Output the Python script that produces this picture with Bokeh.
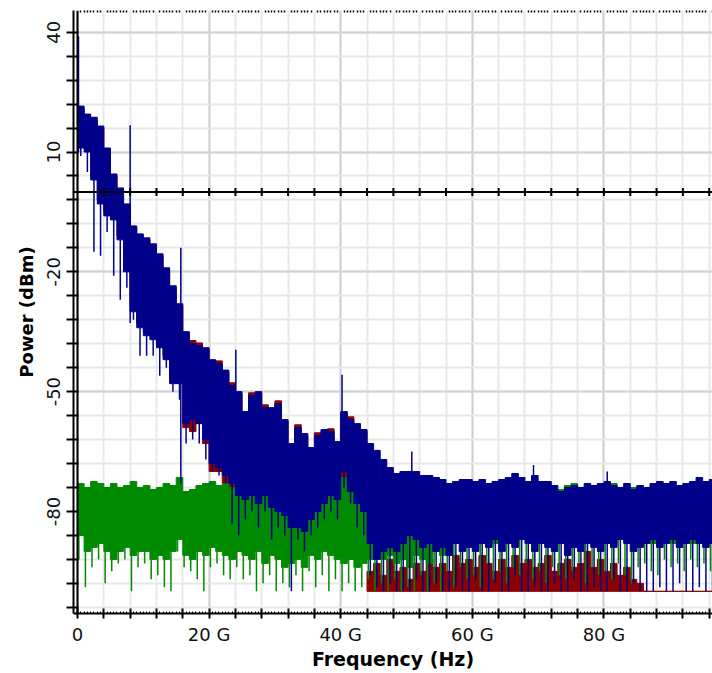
import math
from bokeh.plotting import figure
from bokeh.models import ColumnDataSource, FixedTicker, LinearAxis, Range1d, Span, Grid
from bokeh.embed import file_html
from bokeh.resources import INLINE

# ---------------- data (1 GHz bins) ----------------
freq_ghz = list(range(97))

blue_hi = [21.5, 19.5, 18.7, 16.5, 11, 4.5, 1, -3, -8.5, -10.5,
           -11.5, -13, -15.5, -19, -23.5, -28, -35, -38, -38.5, -39,
           -42, -43, -44.6, -48.5, -50, -55, -51, -50, -54, -54,
           -53, -57, -63, -59, -60.5, -64, -61, -59.5, -60, -62.5,
           -55, -57, -58, -59.5, -63, -64.7, -67, -69, -70.5, -70,
           -70, -70, -71, -71, -71.5, -72, -73, -72.5, -72, -72,
           -72.5, -72, -73, -72.5, -72, -71.5, -70.5, -71.5, -72.5, -71,
           -72.5, -72.5, -73.5, -75, -74, -73.5, -74, -73, -73.5, -73,
           -72.5, -73.5, -74, -73, -74.5, -73.5, -74, -73, -72.5, -73,
           -72.5, -73.5, -73, -72.5, -71.5, -72.5, -72]
blue_core = [11, 10, 3, -3, -6, -7, -12, -20, -30, -34,
             -36, -37, -39, -42, -48, -48, -58, -57, -58, -62,
             -68, -69, -71, -73, -76, -77, -76, -78, -76, -79,
             -80, -81, -84, -84, -85, -82, -80, -78, -76, -77,
             -70, -75, -78, -80, -88, -92, -90, -89, -90, -88,
             -86, -87, -89, -88, -90, -89, -91, -88, -90, -89,
             -90, -88, -89, -87, -90, -88, -89, -87, -88, -90,
             -88, -89, -90, -88, -91, -89, -90, -88, -89, -90,
             -88, -89, -87, -88, -90, -89, -88, -87, -89, -88,
             -87, -89, -88, -87, -88, -89, -88]
blue_lo = [9, 5, -15, -16, -10, -21, -27, -24, -32, -41,
           -41, -41, -46, -44, -50, -52, -63, -62, -63, -67,
           -70, -71, -73, -83, -86, -82, -80, -84, -80, -87,
           -84, -86, -100, -87, -90, -86, -84, -82, -80, -82,
           -74, -78, -84, -86, -96, -99, -100, -98, -100, -100,
           -100, -97, -100, -100, -98, -100, -100, -99, -100, -100,
           -97, -100, -100, -98, -100, -100, -96, -100, -100, -99,
           -100, -100, -98, -100, -100, -97, -100, -100, -99, -100,
           -100, -97, -100, -100, -98, -100, -100, -100, -99, -100,
           -100, -98, -100, -100, -99, -100, -100]
blue_spike_f = [0.15, 8.0, 15.7, 24.06, 40.2, 50.8, 69.3, 80.5]
blue_spike_top = [39, 16.7, -14, -39.5, -45.8, -65, -68.4, -70]
blue_spike_bottom = [10, -32.8, -73, -52, -56, -72, -73, -74]

red_hi = [21, 19, 18, 16, 10.5, 4, 0.5, -3.5, -9, -11,
          -12, -13.5, -16, -19.5, -24, -28.5, -35.5, -37.2, -37.8, -39.5,
          -42.5, -42.3, -45, -47.8, -50.5, -55.5, -50.3, -50.5, -53.3, -54.5,
          -52.3, -57.5, -63.5, -58.3, -61, -64.5, -60.3, -60, -59.3, -63,
          -55.5, -56.3, -58.5, -60, -95, -93, -96, -92, -95, -94,
          -97, -93, -95, -92, -94, -93, -95, -91, -93, -92,
          -94, -91, -93, -95, -92, -94, -91, -93, -92, -94,
          -93, -91, -95, -93, -92, -94, -93, -90, -94, -92,
          -95, -93, -96, -94, -97, -98, -100, -100, -100, -100,
          -100, -100, -100, -100, -100, -100, -100]
red_lo = [12, 11, 4, -2, -5, -6, -11, -19, -29, -33,
          -35, -36, -38, -41, -47, -47, -59, -60, -58, -63,
          -70, -70, -73, -76, -77, -79, -77, -80, -78, -80,
          -82, -82, -86, -86, -87, -84, -81, -80, -78, -79,
          -73, -76, -80, -83, -100, -100, -100, -100, -100, -100,
          -100, -100, -100, -100, -100, -100, -100, -100, -100, -100,
          -100, -100, -100, -100, -100, -100, -100, -100, -100, -100,
          -100, -100, -100, -100, -100, -100, -100, -100, -100, -100,
          -100, -100, -100, -100, -100, -100, -100, -100, -100, -100,
          -100, -100, -100, -100, -100, -100, -100]

green_hi = [-73, -74, -72.5, -73, -74, -73, -74, -73.5, -72.5, -74,
            -73.5, -74.5, -74, -73, -73.5, -71.5, -75, -74.5, -73.5, -73,
            -72.5, -73.5, -73, -74, -73, -74, -73.5, -75, -74, -73,
            -74.5, -75, -76, -75, -74, -75.5, -74, -74.5, -75, -73,
            -71.5, -73, -74, -75, -74, -73.5, -74, -75, -73, -74,
            -74, -75, -74, -73.5, -75, -74, -75, -74.5, -74, -75,
            -74, -75, -74, -75, -74.5, -74, -75, -74, -75, -74,
            -75, -74.5, -75, -74.5, -73.5, -73, -75, -74, -75, -74.5,
            -75, -73, -75, -74.5, -74, -75, -74.5, -75, -74, -75,
            -74.5, -75, -74, -75, -74.5, -75, -74.5]
green_core = [-86, -90, -89, -88, -90, -92, -90, -89, -91, -90,
              -90, -92, -91, -92, -90, -87, -91, -92, -90, -91,
              -89, -90, -91, -92, -90, -91, -92, -90, -93, -91,
              -92, -94, -93, -92, -94, -91, -92, -90, -91, -92,
              -93, -92, -94, -93, -92, -90, -92, -91, -93, -92,
              -94, -91, -92, -93, -90, -91, -87, -88, -86, -87,
              -88, -86, -87, -88, -86, -87, -88, -86, -87, -88,
              -86, -87, -88, -86, -87, -88, -86, -87, -88, -86,
              -87, -88, -86, -87, -88, -86, -87, -88, -86, -87,
              -88, -86, -87, -88, -86, -87, -87]
green_lo = [-92, -99, -94, -92, -98, -95, -93, -92, -100, -94,
            -93, -97, -96, -99, -100, -90, -94, -95, -97, -100,
            -94, -93, -96, -97, -94, -97, -96, -100, -98, -96,
            -100, -98, -99, -96, -100, -95, -99, -96, -100, -97,
            -100, -98, -100, -99, -97, -100, -98, -100, -97, -100,
            -99, -100, -96, -100, -98, -100, -95, -99, -94, -97,
            -96, -99, -93, -97, -95, -98, -94, -96, -93, -97,
            -95, -98, -94, -96, -97, -95, -93, -98, -94, -96,
            -95, -97, -93, -96, -98, -94, -93, -95, -96, -92,
            -94, -93, -95, -92, -94, -93, -95]

x_tick_labels = {0: "0", 20: "20 G", 40: "40 G", 60: "60 G", 80: "80 G"}
y_tick_labels = {40: "40", 10: "10", -20: "-20", -50: "-50", -80: "-80"}

# ---------------- styling ----------------
BLUE = "#00008b"
GREEN = "#008a00"
RED = "#8b0000"
FONT = "DejaVu Sans"

x_major = list(range(0, 100, 4))
x_minor = [k * 0.5 for k in range(0, 200)]
x_minor_gapped = [m for m in x_minor if m % 4 != 0]
y_major = [40 - 6 * k for k in range(0, 25)]

p = figure(width=712, height=673, output_backend="svg", toolbar_location=None,
           x_range=Range1d(-0.61, 96.5), y_range=Range1d(-105.55, 45.43),
           x_axis_type=None, y_axis_type=None,
           min_border_left=73, min_border_right=0, min_border_top=10, min_border_bottom=60)
p.outline_line_color = None
p.background_fill_color = "white"
p.border_fill_color = "white"

# grids
p.add_layout(Grid(dimension=0, ticker=FixedTicker(ticks=x_major),
                  grid_line_color="#e8e8e8", grid_line_width=2))
p.add_layout(Grid(dimension=0, ticker=FixedTicker(ticks=list(x_tick_labels.keys())),
                  grid_line_color="#d2d2d2", grid_line_width=2))
p.add_layout(Grid(dimension=1, ticker=FixedTicker(ticks=y_major),
                  grid_line_color="#e8e8e8", grid_line_width=2))
p.add_layout(Grid(dimension=1, ticker=FixedTicker(ticks=list(y_tick_labels.keys())),
                  grid_line_color="#d2d2d2", grid_line_width=2))

# data sources
src = ColumnDataSource(dict(
    left=[f for f in freq_ghz], right=[f + 1 for f in freq_ghz],
    blue_hi=blue_hi, blue_core=blue_core, blue_lo=blue_lo,
    red_hi=red_hi, red_lo=red_lo,
    green_hi=green_hi, green_core=green_core, green_lo=green_lo,
    bx=[f + 0.5 for f in freq_ghz], gx=[f + 0.2 for f in freq_ghz],
))

# red (bottom)
p.quad(left="left", right="right", bottom="red_lo", top="red_hi", source=src,
       fill_color=RED, line_color=RED, line_width=1)
# green
p.quad(left="left", right="right", bottom="green_core", top="green_hi", source=src,
       fill_color=GREEN, line_color=GREEN, line_width=1)
p.segment(x0="gx", y0="green_core", x1="gx", y1="green_lo", source=src,
          line_color=GREEN, line_width=1.5)
# blue (top)
p.quad(left="left", right="right", bottom="blue_core", top="blue_hi", source=src,
       fill_color=BLUE, line_color=BLUE, line_width=1)
p.segment(x0="bx", y0="blue_core", x1="bx", y1="blue_lo", source=src,
          line_color=BLUE, line_width=1.5)
p.segment(x0=blue_spike_f, y0=blue_spike_bottom, x1=blue_spike_f, y1=blue_spike_top,
          line_color=BLUE, line_width=1.5)

# y = 0 axis line with ticks, x = 0 line
zero_ticks = [t for t in x_major if t > 0]
p.scatter(x=zero_ticks, y=[0] * len(zero_ticks), marker="dash", angle=math.pi / 2,
          size=8, line_color="black", line_width=2)
p.add_layout(Span(location=0, dimension="width", line_color="black", line_width=2))
p.add_layout(Span(location=0, dimension="height", line_color="black", line_width=2))

# bottom axis
xaxis = LinearAxis(ticker=FixedTicker(ticks=x_major, minor_ticks=x_minor),
                   major_label_overrides={t: x_tick_labels.get(t, "") for t in x_major})
xaxis.axis_line_width = 2
xaxis.axis_line_color = "black"
xaxis.major_tick_in = 5
xaxis.major_tick_out = 5
xaxis.major_tick_line_width = 2
xaxis.minor_tick_in = 2
xaxis.minor_tick_out = 0
xaxis.minor_tick_line_width = 1
xaxis.major_label_text_font = FONT
xaxis.major_label_text_font_size = "18px"
xaxis.major_label_text_color = "#111111"
xaxis.major_label_standoff = 5
xaxis.axis_label = "Frequency (Hz)"
xaxis.axis_label_text_font = FONT
xaxis.axis_label_text_font_style = "bold"
xaxis.axis_label_text_font_size = "19px"
xaxis.axis_label_text_color = "black"
xaxis.axis_label_standoff = 0
p.add_layout(xaxis, "below")

# left axis
yaxis = LinearAxis(ticker=FixedTicker(ticks=y_major, minor_ticks=[]),
                   major_label_overrides={t: y_tick_labels.get(t, "") for t in y_major})
yaxis.axis_line_width = 2
yaxis.axis_line_color = "black"
yaxis.major_tick_in = 5
yaxis.major_tick_out = 7
yaxis.major_tick_line_width = 2
yaxis.minor_tick_line_color = None
yaxis.major_label_orientation = "vertical"
yaxis.major_label_text_font = FONT
yaxis.major_label_text_font_size = "18px"
yaxis.major_label_text_color = "#111111"
yaxis.major_label_standoff = 6
yaxis.axis_label = "Power (dBm)"
yaxis.axis_label_text_font = FONT
yaxis.axis_label_text_font_style = "bold"
yaxis.axis_label_text_font_size = "18px"
yaxis.axis_label_text_color = "black"
yaxis.axis_label_standoff = 8
p.add_layout(yaxis, "left")

# top dotted border
top = LinearAxis(ticker=FixedTicker(ticks=x_major, minor_ticks=x_minor_gapped),
                 major_label_overrides={t: "" for t in x_major})
top.axis_line_color = None
top.major_tick_line_color = None
top.major_tick_in = 0
top.major_tick_out = 0
top.minor_tick_in = 2
top.minor_tick_out = 0
top.minor_tick_line_width = 1.5
top.minor_tick_line_color = "black"
top.major_label_text_font_size = "0px"
top.major_label_standoff = 0
p.add_layout(top, "above")

open("out.html", "w").write(file_html(p, INLINE))
